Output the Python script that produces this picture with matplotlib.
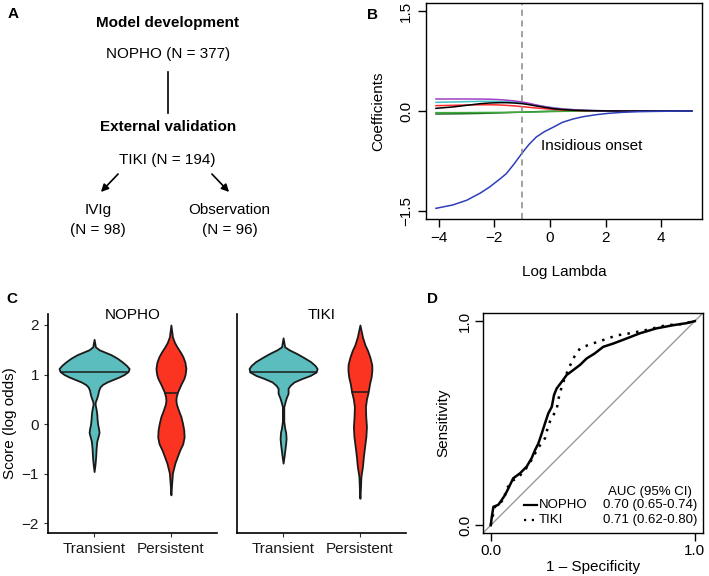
import numpy as np
import matplotlib
matplotlib.use("Agg")
import matplotlib.pyplot as plt

plt.rcParams.update({
    "font.family": ["Liberation Sans", "DejaVu Sans"],
    "font.size": 11,
    "axes.linewidth": 1.0,
})

# ---------------- data ----------------
# Panel B: lasso coefficient paths vs log lambda
log_lambda = [-4.1, -3.5, -3.0, -2.5, -2.17, -1.8, -1.57, -1.3, -1.0, -0.75, -0.49, -0.2,
              0.11, 0.45, 0.83, 1.2, 1.67, 2.1, 2.6, 3.2, 3.9, 5.1]
coef_blue = [-1.46, -1.41, -1.34, -1.23, -1.14, -1.02, -0.94, -0.80, -0.63, -0.50, -0.39, -0.31,
             -0.245, -0.17, -0.12, -0.085, -0.055, -0.035, -0.02, -0.01, -0.005, 0.0]
coef_purple = [0.18, 0.18, 0.18, 0.179, 0.177, 0.17, 0.163, 0.152, 0.135, 0.115, 0.09, 0.065,
               0.045, 0.03, 0.02, 0.012, 0.006, 0.003, 0.0, 0.0, 0.0, 0.0]
coef_cyan = [0.13, 0.135, 0.14, 0.145, 0.145, 0.143, 0.14, 0.133, 0.122, 0.105, 0.088, 0.068,
             0.05, 0.033, 0.02, 0.012, 0.005, 0.002, 0.0, 0.0, 0.0, 0.0]
coef_black = [0.04, 0.06, 0.085, 0.11, 0.12, 0.125, 0.125, 0.12, 0.11, 0.095, 0.075, 0.055,
              0.035, 0.022, 0.012, 0.007, 0.003, 0.001, 0.0, 0.0, 0.0, 0.0]
coef_red = [0.08, 0.085, 0.09, 0.093, 0.094, 0.09, 0.085, 0.077, 0.065, 0.055, 0.045, 0.035,
            0.025, 0.016, 0.01, 0.005, 0.002, 0.0, 0.0, 0.0, 0.0, 0.0]
coef_green = [-0.025, -0.025, -0.024, -0.023, -0.022, -0.021, -0.02, -0.019, -0.018, -0.016,
              -0.014, -0.011, -0.008, -0.005, -0.003, -0.001, 0.0, 0.0, 0.0, 0.0, 0.0, 0.0]
coef_dkgreen = [-0.045, -0.043, -0.04, -0.036, -0.032, -0.028, -0.025, -0.021, -0.018, -0.014,
                -0.01, -0.006, -0.003, -0.001, 0.0, 0.0, 0.0, 0.0, 0.0, 0.0, 0.0, 0.0]
lambda_min = -1.0

# Panel C: violin outlines (score, half-width)
nopho_tr_score = [1.71, 1.56, 1.50, 1.45, 1.40, 1.33, 1.25, 1.18, 1.12, 1.06, 1.00, 0.95, 0.90, 0.85,
                  0.80, 0.75, 0.68, 0.60, 0.52, 0.45, 0.40, 0.30, 0.20, 0.10, 0.00, -0.10, -0.17,
                  -0.25, -0.35, -0.50, -0.65, -0.80, -0.96]
nopho_tr_width = [0, .017, .065, .143, .221, .30, .371, .423, .456, .443, .391, .326, .247, .169,
                  .111, .078, .059, .049, .033, .016, .013, .026, .035, .039, .046, .059, .065,
                  .052, .035, .026, .021, .013, 0]
nopho_pe_score = [2.0, 1.76, 1.65, 1.56, 1.45, 1.36, 1.25, 1.12, 1.0, 0.92, 0.80, 0.65, 0.55, 0.48,
                  0.40, 0.28, 0.15, 0.01, -0.12, -0.26, -0.40, -0.52, -0.65, -0.79, -0.99, -1.2, -1.43]
nopho_pe_width = [0, .02, .046, .078, .124, .156, .182, .195, .185, .169, .13, .087, .069, .065,
                  .072, .098, .13, .152, .167, .172, .154, .117, .085, .052, .02, .01, 0]
tiki_tr_score = [1.74, 1.56, 1.50, 1.42, 1.34, 1.26, 1.18, 1.12, 1.05, 0.98, 0.92, 0.85, 0.78, 0.72,
                 0.62, 0.52, 0.45, 0.35, 0.05, -0.10, -0.16, -0.29, -0.40, -0.49, -0.65, -0.79]
tiki_tr_width = [0, .02, .078, .182, .273, .358, .417, .443, .43, .352, .247, .143, .091, .065,
                 .065, .039, .026, .009, .009, .023, .033, .039, .033, .026, .013, 0]
tiki_pe_score = [2.0, 1.76, 1.60, 1.49, 1.35, 1.20, 1.09, 0.95, 0.82, 0.65, 0.50, 0.35, 0.15, -0.05,
                 -0.25, -0.46, -0.65, -0.86, -1.06, -1.3, -1.5]
tiki_pe_width = [0, .033, .065, .098, .13, .154, .156, .146, .126, .108, .085, .072, .076, .085,
                 .078, .061, .046, .033, .013, .007, 0]
medians = {"NOPHO": [1.05, 0.63], "TIKI": [1.06, 0.64]}
groups = ["Transient", "Persistent"]

# Panel D: ROC curves
nopho_fpr = [0, 0.005, 0.013, 0.037, 0.054, 0.07, 0.086, 0.11, 0.143, 0.176, 0.20, 0.217, 0.233,
             0.25, 0.266, 0.282, 0.299, 0.31, 0.323, 0.348, 0.372, 0.404, 0.437, 0.47, 0.51,
             0.551, 0.60, 0.666, 0.73, 0.81, 0.894, 0.96, 1.0]
nopho_tpr = [0, 0.04, 0.09, 0.10, 0.124, 0.148, 0.18, 0.23, 0.254, 0.287, 0.328, 0.368, 0.40,
             0.45, 0.50, 0.548, 0.58, 0.638, 0.67, 0.703, 0.736, 0.76, 0.785, 0.817, 0.842,
             0.874, 0.89, 0.915, 0.94, 0.964, 0.98, 0.99, 1.0]
tiki_fpr = [0, 0.02, 0.07, 0.07, 0.11, 0.135, 0.168, 0.20, 0.233, 0.266, 0.282, 0.30, 0.323,
            0.33, 0.35, 0.372, 0.404, 0.437, 0.478, 0.55, 0.617, 0.68, 0.76, 0.86, 0.93, 1.0]
tiki_tpr = [0, 0.09, 0.13, 0.17, 0.22, 0.235, 0.27, 0.32, 0.38, 0.426, 0.49, 0.53, 0.564,
            0.613, 0.687, 0.744, 0.817, 0.866, 0.883, 0.907, 0.93, 0.94, 0.956, 0.98, 0.985, 1.0]
auc_text = {"NOPHO": "0.70 (0.65-0.74)", "TIKI": "0.71 (0.62-0.80)"}

teal = "#5BBDBE"
red = "#FA3420"

fig = plt.figure(figsize=(7.09, 5.76), dpi=100)

# overlay in pixel coordinates for panel A and panel letters
ov = fig.add_axes([0, 0, 1, 1])
ov.set_xlim(0, 709)
ov.set_ylim(576, 0)
ov.axis("off")

for letter, (lx, ly) in zip("ABCD", [(13, 14), (373, 15), (12, 299), (432, 299)]):
    ov.text(lx, ly, letter, fontweight="bold", fontsize=11, ha="center", va="center")

ov.text(168, 23, "Model development", fontweight="bold", ha="center", va="center")
ov.text(168, 54, "NOPHO (N = 377)", ha="center", va="center")
ov.plot([168, 168], [72, 113], color="black", lw=1.2)
ov.text(168, 127, "External validation", fontweight="bold", ha="center", va="center")
ov.text(167, 160, "TIKI (N = 194)", ha="center", va="center")
ov.annotate("", xy=(99, 194), xytext=(120, 172),
            arrowprops=dict(arrowstyle="-|>", color="black", lw=1.2, mutation_scale=11))
ov.annotate("", xy=(231, 194), xytext=(210, 172),
            arrowprops=dict(arrowstyle="-|>", color="black", lw=1.2, mutation_scale=11))
ov.text(98, 210, "IVIg", ha="center", va="center")
ov.text(98, 230, "(N = 98)", ha="center", va="center")
ov.text(229, 210, "Observation", ha="center", va="center")
ov.text(230, 230, "(N = 96)", ha="center", va="center")

# ---------------- panel B ----------------
axb = fig.add_axes([0.6004, 0.6198, 0.3897, 0.375])
path_list = [(coef_dkgreen, "#1E5E1E"), (coef_green, "#3BAA3B"), (coef_red, "#FF2A2A"),
             (coef_cyan, "#44C4C4"), (coef_purple, "#A040C8"), (coef_black, "black"),
             (coef_blue, "#2E3EB8")]
for vals, col in path_list:
    axb.plot(log_lambda, vals, color=col, lw=1.1)
axb.axvline(lambda_min, color="#888888", ls=(0, (4, 3)), lw=1.1)
axb.text(-0.33, -0.53, "Insidious onset", ha="left", va="center", fontsize=11)
axb.set_xlim(-4.47, 5.47)
axb.set_ylim(-1.62, 1.62)
axb.set_xticks([-4, -2, 0, 2, 4])
axb.set_yticks([-1.5, 0.0, 1.5])
axb.set_yticklabels(["\u22121.5", "0.0", "1.5"], rotation=90, va="center")
axb.tick_params(length=6, width=1, labelsize=11, pad=3)
axb.set_xlabel("Log Lambda", va="center")
axb.xaxis.set_label_coords(0.5, -0.245)
axb.set_ylabel("Coefficients", va="center")
axb.yaxis.set_label_coords(-0.173, 0.5)

# ---------------- panel C ----------------
violins = {
    "NOPHO": [(nopho_tr_score, nopho_tr_width, teal), (nopho_pe_score, nopho_pe_width, red)],
    "TIKI": [(tiki_tr_score, tiki_tr_width, teal), (tiki_pe_score, tiki_pe_width, red)],
}
c_lefts = [48 / 709, 237 / 709]
for k, (name, vlist) in enumerate(violins.items()):
    ax = fig.add_axes([c_lefts[k], 0.0747, 169 / 709, 0.380])
    for i, (sc, wd, col) in enumerate(vlist):
        sc = np.array(sc)
        wd = np.array(wd)
        pos = i + 1
        ax.fill_betweenx(sc, pos - wd, pos + wd, facecolor=col, edgecolor="#1a1a1a", lw=1.3)
        med = medians[name][i]
        hw = np.interp(med, sc[::-1], wd[::-1])
        ax.plot([pos - hw, pos + hw], [med, med], color="#1a1a1a", lw=1.1)
    ax.set_xlim(0.4, 2.6)
    ax.set_ylim(-2.2, 2.22)
    ax.set_xticks([1, 2])
    ax.set_xticklabels(groups)
    for s in ["top", "right"]:
        ax.spines[s].set_visible(False)
    ax.spines["left"].set_linewidth(1.2)
    ax.spines["bottom"].set_linewidth(1.2)
    ax.tick_params(length=3, color="#333333", labelsize=11, labelcolor="#1a1a1a")
    ax.text(0.5, 0.997, name, transform=ax.transAxes, ha="center", va="center", fontsize=11)
    if k == 0:
        ax.set_yticks([-2, -1, 0, 1, 2])
        ax.set_ylabel("Score (log odds)", va="center")
        ax.yaxis.set_label_coords(-0.225, 0.5)
    else:
        ax.set_yticks([])

# ---------------- panel D ----------------
axd = fig.add_axes([483 / 709, 0.0747, 220 / 709, 0.382])
axd.axline((0, 0), (1, 1), color="#9a9a9a", lw=1.0)
axd.plot(nopho_fpr, nopho_tpr, color="black", lw=1.8)
axd.plot(tiki_fpr, tiki_tpr, color="black", lw=1.8, ls=(0, (1, 2.5)))
axd.set_xlim(-0.038, 1.04)
axd.set_ylim(-0.038, 1.04)
axd.set_xticks([0, 1])
axd.set_xticklabels(["0.0", "1.0"])
axd.set_yticks([0, 1])
axd.set_yticklabels(["0.0", "1.0"], rotation=90, va="center")
axd.tick_params(length=6, width=1, labelsize=11, pad=2)
axd.set_xlabel("1 \u2013 Specificity", va="center")
axd.xaxis.set_label_coords(0.5, -0.155)
axd.set_ylabel("Sensitivity", va="center")
axd.yaxis.set_label_coords(-0.182, 0.5)

axd.text(0.78, 0.164, "AUC (95% CI)", ha="center", va="center", fontsize=9.5)
axd.plot([0.163, 0.227], [0.099, 0.099], color="black", lw=1.6)
axd.text(0.236, 0.099, "NOPHO", ha="left", va="center", fontsize=9.5)
axd.text(0.78, 0.099, auc_text["NOPHO"], ha="center", va="center", fontsize=9.5)
axd.plot([0.163, 0.227], [0.026, 0.026], color="black", lw=1.6, ls=(0, (1, 2.5)))
axd.text(0.236, 0.026, "TIKI", ha="left", va="center", fontsize=9.5)
axd.text(0.78, 0.026, auc_text["TIKI"], ha="center", va="center", fontsize=9.5)

fig.savefig("out.png", dpi=100)
